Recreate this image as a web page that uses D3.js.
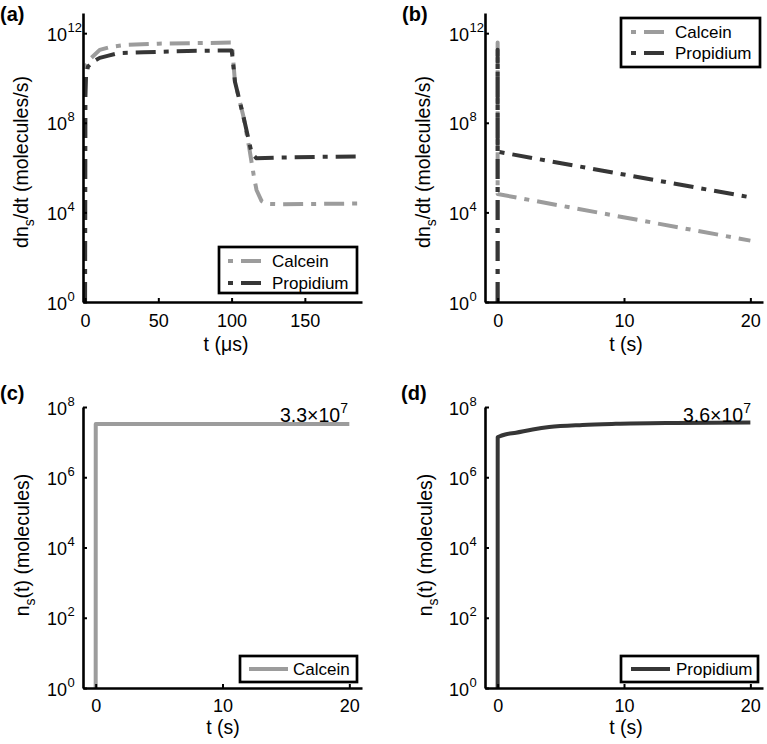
<!DOCTYPE html>
<html>
<head>
<meta charset="utf-8">
<script src="https://cdn.jsdelivr.net/npm/d3@7"></script>
<style>
  html, body { margin: 0; padding: 0; background: #fff; }
  svg { display: block; font-family: "Liberation Sans", Arial, Helvetica, sans-serif; }
</style>
</head>
<body>
<svg id="chart" width="767" height="744"></svg>
<script>
// ---------------- DATA ----------------
// Panel (a): dn_s/dt (molecules/s) vs t (µs)
const calceinA_t = [0, 0.2, 1, 3.5, 10, 17, 28, 50, 75, 100, 100.5, 102.3, 108, 112, 115, 117, 120.5, 124, 135, 160, 189];
const calceinA_v = [1, 1.0e10, 4.0e10, 7.1e10, 1.8e11, 2.4e11, 3.0e11, 3.4e11, 3.6e11, 3.8e11, 2.0e11, 6.8e9, 2.0e8, 7.9e6, 5.0e5, 1.0e5, 3.2e4, 2.4e4, 2.3e4, 2.4e4, 2.5e4];
const propidiumA_t = [0, 0.2, 0.7, 2, 5, 10, 16, 23, 40, 70, 100, 100.5, 102.3, 108, 113.7, 117, 130, 160, 189];
const propidiumA_v = [1, 1.6e9, 1.3e10, 3.2e10, 5.1e10, 7.9e10, 1.0e11, 1.3e11, 1.4e11, 1.6e11, 1.7e11, 1.0e11, 6.8e9, 2.0e8, 4.4e6, 2.6e6, 2.8e6, 3.0e6, 3.1e6];

// Panel (b): dn_s/dt (molecules/s) vs t (s)
const calceinB_t = [0, 0, 0, 20];
const calceinB_v = [1, 3.8e11, 6.6e4, 5.5e2];
const propidiumB_t = [0, 0, 0, 20];
const propidiumB_v = [1, 1.8e11, 5.1e6, 4.7e4];

// Panel (c): n_s(t) calcein
const calceinC_t = [0, 0.005, 20];
const calceinC_v = [1, 3.3e7, 3.3e7];

// Panel (d): n_s(t) propidium
const propidiumD_t = [0, 0.005, 0.13, 0.6, 1.45, 2.77, 4.08, 6.72, 9.35, 14, 20];
const propidiumD_v = [1, 1.38e7, 1.45e7, 1.65e7, 1.86e7, 2.29e7, 2.69e7, 3.09e7, 3.31e7, 3.5e7, 3.6e7];

// Ticks / labels
const yTicksRate = [1e0, 1e4, 1e8, 1e12];
const yTicksCount = [1e0, 1e2, 1e4, 1e6, 1e8];
const xTicksUs = [0, 50, 100, 150];
const xTicksS = [0, 10, 20];
const seriesNames = ["Calcein", "Propidium"];
const annotC = ["3.3\u00d710", "7"];
const annotD = ["3.6\u00d710", "7"];

// ---------------- STYLE ----------------
const COL_CAL = "#9c9c9c";
const COL_PRO = "#363636";
const DASHDOT = "20,8,5,8";
const FS_TICK = 18, FS_TITLE = 19.5, FS_LEG = 17, FS_SUP = 13;

const svg = d3.select("#chart");

function zip(t, v) { return t.map((d, i) => ({t: d, v: v[i]})); }

function makePanel(cfg) {
  const x = d3.scaleLinear().domain(cfg.xDomain).range(cfg.xRange);
  const y = d3.scaleLog().domain(cfg.yDomain).range(cfg.yRange);
  const g = svg.append("g");

  // series
  cfg.series.forEach(s => {
    const line = d3.line().x(d => x(d.t)).y(d => y(d.v)).curve(s.smooth ? d3.curveMonotoneX : d3.curveLinear);
    g.append("path")
      .attr("d", line(zip(s.t, s.v)))
      .attr("fill", "none")
      .attr("stroke", s.color)
      .attr("stroke-width", 4)
      .attr("stroke-linejoin", "round")
      .attr("stroke-dasharray", s.dash || null);
  });

  // axes
  const xAxis = d3.axisBottom(x).tickValues(cfg.xTicks).tickSize(-4).tickSizeOuter(0).tickPadding(cfg.xTickPad);
  const gx = g.append("g").attr("transform", `translate(0,${cfg.yRange[0]})`).call(xAxis);
  gx.select(".domain").attr("stroke", "#000").attr("stroke-width", 2.6);
  gx.selectAll(".tick line").attr("stroke", "#000").attr("stroke-width", 2);
  gx.selectAll(".tick text").attr("font-size", FS_TICK).attr("fill", "#000").attr("font-family", null);

  const yAxis = d3.axisLeft(y).tickValues(cfg.yTicks).tickSize(-4).tickSizeOuter(0).tickFormat("");
  const gy = g.append("g").attr("transform", `translate(${cfg.xRange[0]},0)`).call(yAxis);
  gy.select(".domain").attr("stroke", "#000").attr("stroke-width", 2.6);
  gy.selectAll(".tick line").attr("stroke", "#000").attr("stroke-width", 2);

  cfg.yTicks.forEach(v => {
    const e = Math.round(Math.log10(v));
    const yy = y(v) + 7.5;
    g.append("text").attr("x", cfg.xRange[0] - 16).attr("y", yy)
      .attr("text-anchor", "end").attr("font-size", FS_TICK).text("10");
    g.append("text").attr("x", cfg.xRange[0] - 15.5).attr("y", yy - 9)
      .attr("font-size", FS_SUP).text(e);
  });

  // x title
  g.append("text").attr("x", cfg.xTitlePos[0]).attr("y", cfg.xTitlePos[1])
    .attr("text-anchor", "middle").attr("font-size", FS_TITLE).text(cfg.xTitle);

  // y title
  const yt = g.append("text")
    .attr("transform", `translate(${cfg.yTitlePos[0]},${cfg.yTitlePos[1]}) rotate(-90)`)
    .attr("text-anchor", "middle").attr("font-size", FS_TITLE);
  yt.append("tspan").text(cfg.yTitle[0]);
  yt.append("tspan").attr("font-size", FS_SUP + 1).attr("dy", 6).text(cfg.yTitle[1]);
  yt.append("tspan").attr("dy", -6).text(cfg.yTitle[2]);

  // panel label
  g.append("text").attr("x", cfg.labelPos[0]).attr("y", cfg.labelPos[1])
    .attr("font-size", 20).attr("font-weight", "bold").text(cfg.label);

  // legend
  const L = cfg.legend;
  g.append("rect").attr("x", L.box[0]).attr("y", L.box[1])
    .attr("width", L.box[2]).attr("height", L.box[3])
    .attr("fill", "#fff").attr("stroke", "#000").attr("stroke-width", 2.7);
  L.items.forEach(it => {
    g.append("line").attr("x1", L.lineX[0]).attr("x2", L.lineX[1])
      .attr("y1", it.y).attr("y2", it.y)
      .attr("stroke", it.color).attr("stroke-width", 4)
      .attr("stroke-dasharray", it.dash || null)
      .attr("stroke-dashoffset", it.dash ? 28 : null);
    g.append("text").attr("x", L.textX).attr("y", it.y + 6)
      .attr("font-size", FS_LEG).text(it.name);
  });

  // annotation
  if (cfg.annot) {
    const at = g.append("text").attr("x", cfg.annot.pos[0]).attr("y", cfg.annot.pos[1])
      .attr("text-anchor", "end").attr("font-size", FS_TITLE);
    at.append("tspan").text(cfg.annot.text[0]);
    at.append("tspan").attr("font-size", FS_SUP + 1).attr("dy", -9).text(cfg.annot.text[1]);
  }
}

const rateTitle = ["dn", "s", "/dt (molecules/s)"];
const countTitle = ["n", "s", "(t) (molecules)"];

makePanel({
  xDomain: [-1.4, 189], xRange: [83, 362],
  yDomain: [1, Math.pow(10, 12.9)], yRange: [302, 13],
  xTicks: xTicksUs, yTicks: yTicksRate, xTickPad: 12,
  series: [
    {t: calceinA_t, v: calceinA_v, color: COL_CAL, dash: DASHDOT},
    {t: propidiumA_t, v: propidiumA_v, color: COL_PRO, dash: DASHDOT}
  ],
  xTitle: "t (\u03bcs)", xTitlePos: [226, 351],
  yTitle: rateTitle, yTitlePos: [28, 162],
  label: "(a)", labelPos: [0, 21],
  legend: {box: [219, 247, 138, 46], lineX: [228, 263], textX: 272,
    items: [{name: seriesNames[0], color: COL_CAL, dash: DASHDOT, y: 261},
            {name: seriesNames[1], color: COL_PRO, dash: DASHDOT, y: 283}]}
});

makePanel({
  xDomain: [-1, 21], xRange: [485, 763],
  yDomain: [1, Math.pow(10, 12.9)], yRange: [302, 13],
  xTicks: xTicksS, yTicks: yTicksRate, xTickPad: 12,
  series: [
    {t: calceinB_t, v: calceinB_v, color: COL_CAL, dash: DASHDOT},
    {t: propidiumB_t, v: propidiumB_v, color: COL_PRO, dash: DASHDOT}
  ],
  xTitle: "t (s)", xTitlePos: [626, 351],
  yTitle: rateTitle, yTitlePos: [430, 162],
  label: "(b)", labelPos: [402, 21],
  legend: {box: [621, 18, 139, 49], lineX: [631, 666], textX: 675,
    items: [{name: seriesNames[0], color: COL_CAL, dash: DASHDOT, y: 32},
            {name: seriesNames[1], color: COL_PRO, dash: DASHDOT, y: 53}]}
});

makePanel({
  xDomain: [-1, 21], xRange: [83, 362],
  yDomain: [1, 1e8], yRange: [688, 407],
  xTicks: xTicksS, yTicks: yTicksCount, xTickPad: 11,
  series: [{t: calceinC_t, v: calceinC_v, color: COL_CAL}],
  xTitle: "t (s)", xTitlePos: [223, 734],
  yTitle: countTitle, yTitlePos: [29, 545],
  label: "(c)", labelPos: [0, 400],
  legend: {box: [240, 656, 117, 26], lineX: [249, 288], textX: 293,
    items: [{name: seriesNames[0], color: COL_CAL, y: 669}]},
  annot: {pos: [348, 422], text: annotC}
});

makePanel({
  xDomain: [-1, 21], xRange: [485, 763],
  yDomain: [1, 1e8], yRange: [688, 407],
  xTicks: xTicksS, yTicks: yTicksCount, xTickPad: 11,
  series: [{t: propidiumD_t, v: propidiumD_v, color: COL_PRO, smooth: true}],
  xTitle: "t (s)", xTitlePos: [626, 734],
  yTitle: countTitle, yTitlePos: [432, 545],
  label: "(d)", labelPos: [401, 400],
  legend: {box: [621, 656, 137, 26], lineX: [631, 670], textX: 676,
    items: [{name: seriesNames[1], color: COL_PRO, y: 669}]},
  annot: {pos: [751, 422], text: annotD}
});
</script>
</body>
</html>
